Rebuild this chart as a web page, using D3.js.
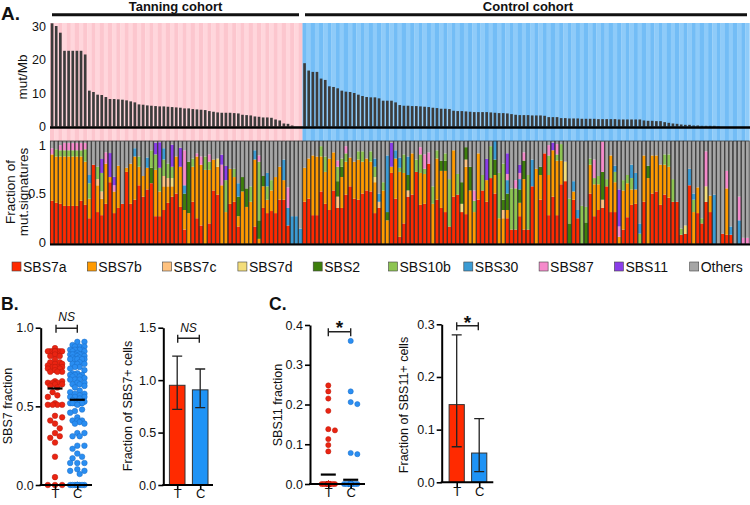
<!DOCTYPE html>
<html><head><meta charset="utf-8">
<script src="https://cdn.jsdelivr.net/npm/d3@7"></script>
<style>
body{margin:0;background:#fff}
svg{display:block}
text{font-family:"Liberation Sans",Arial,Helvetica,sans-serif;fill:#111}
</style>
</head><body>
<svg id="chart" width="750" height="505"></svg>
<script>
// ---------------- DATA ----------------
const nTanning = 61;
const nControl = 108;
const cohorts = ["Tanning cohort", "Control cohort"];
const mutMb = [
 30.8,30.0,28.0,22.6,22.6,22.6,22.6,22.6,21.5,10.7,
 10.3,9.5,9.4,8.8,8.2,8.2,8.1,8.0,7.8,7.5,
 7.2,6.6,6.5,6.3,6.2,6.1,6.0,6.0,5.9,5.8,
 5.7,5.6,5.4,5.4,5.2,5.1,5.0,4.9,4.6,4.4,
 4.2,4.1,4.1,4.1,4.0,3.9,3.5,3.4,3.3,3.0,
 2.9,2.7,2.7,2.6,2.1,1.8,0.9,0.8,0.3,0,0,
 18.9,16.7,16.3,16.3,14.3,13.9,12.0,11.8,11.4,10.7,
 10.4,10.3,10.0,9.5,9.1,8.8,8.7,8.7,8.4,7.7,7.7,
 7.7,7.2,6.4,6.2,6.2,6.1,6.1,6.0,5.9,5.8,
 5.6,5.5,5.3,5.3,5.2,4.7,4.6,4.6,4.5,4.4,
 4.3,4.3,4.3,4.3,4.2,4.1,4.0,4.0,3.9,3.7,
 3.5,3.4,3.4,3.4,3.3,3.3,3.3,3.2,2.8,2.8,
 2.8,2.5,2.5,2.4,
 2.4,2.4,2.3,2.3,2.3,2.3,2.2,2.2,2.2,2.2,
 2.2,2.1,2.1,2.1,2.1,2.1,2.1,1.8,1.7,1.7,
 1.6,1.6,1.3,1.1,0.9,0.8,0.6,0.5,0.5,0.3,
 0.3,0.2,0.2,0.2,0.2,0.1,0,0,0,0,0,0,0
];
const sbs7a = [
 .42,.40,.39,.37,.37,.37,.37,.42,.38,.25,
 .77,.31,.28,.39,.60,.30,.35,.39,.70,.39,
 .43,.57,.46,.53,.59,.27,.27,.33,.40,.46,
 .49,.36,.14,0,.41,.25,.18,0,.20,.52,
 .48,0,0,.39,.41,.17,0,0,0,.17,
 0,.35,.30,.32,.30,.43,.43,.18,0,0,
 0,.41,.44,.28,.28,.51,.39,.33,.52,.35,
 .35,.48,.56,.44,.43,.49,.52,.51,.30,.35,
 0,0,.69,.44,.07,.20,.46,.48,.70,.38,
 .39,.78,0,.43,.35,.31,.17,.46,.48,.31,
 .29,0,0,.43,.52,.41,.64,.49,0,0,
 .25,.14,.14,.27,.14,.14,.56,0,.43,.88,
 .28,.46,.28,.58,.61,0,.43,.25,0,0,
 .49,.27,.33,.35,.56,.31,.31,0,.14,.26,
 .38,.39,0,.41,0,.49,.51,.38,.48,.45,
 .41,.41,.09,.10,.57,0,.30,.20,.41,.31,
 0,0,.10,.09,.09,0,0,0,0
];
const sbs7b = [
 .45,.45,.46,.48,.48,.48,.48,.43,.42,.19,
 0,.26,.16,.39,.05,.21,.41,0,.04,.39,
 .42,.18,.20,.21,0,.45,.24,.23,.16,.10,
 .36,.39,.19,.30,.34,.60,.59,.72,.52,.30,
 .27,.57,.31,.34,.24,.10,.51,.36,.41,.65,
 .05,.21,.13,.20,.35,.32,.19,0,0,0,
 0,.33,.39,.58,.57,.34,.31,.50,.37,0,
 .30,.32,.28,.36,.39,.31,.31,.29,.30,0,
 .52,.23,.06,.39,.63,.49,0,.40,0,.31,
 .29,0,.39,.40,.36,.40,0,.45,0,0,
 .46,.52,.31,.45,0,.21,0,.18,.25,.25,
 .08,0,0,.13,.49,0,0,.73,.24,0,
 .39,.45,.53,.23,0,0,.08,0,0,0,
 .28,.31,.25,0,0,.55,.29,.07,.38,.33,
 .15,.14,0,.45,.64,.37,.35,.39,.29,.30,
 0,0,0,0,0,.31,.25,0,0,.16,
 0,0,0,.45,0,0,0,0,0
];
const sbs7c = [
 0,0,0,0,0,0,0,0,0,0,
 0,.06,.07,0,0,0,0,0,0,0,
 0,0,0,0,0,0,0,.10,.08,0,
 0,0,0,0,0,0,0,0,0,0,
 0,0,0,0,0,0,0,0,0,0,
 0,0,0,0,0,0,0,0,0,0,
 0,0,0,0,0,0,0,0,0,.11,
 0,0,0,0,0,0,0,0,0,.06,
 0,0,0,0,0,0,.06,0,0,0,
 0,0,0,0,0,0,0,0,0,0,
 .07,0,0,0,0,0,0,0,0,.08,
 0,0,0,0,0,0,0,0,0,0,
 0,0,0,0,0,0,0,0,0,0,
 0,0,0,.08,0,0,0,0,0,0,
 0,0,0,0,0,0,0,0,0,0,
 0,0,0,0,0,0,0,0,0,0,
 0,0,0,0,0,0,0,0,0
];
const sbs7d = [
 0,0,0,0,0,0,0,0,0,0,
 0,0,0,0,0,0,0,0,0,0,
 0,0,0,0,0,0,0,0,0,.08,
 0,0,0,0,0,0,0,0,0,0,
 .08,0,0,0,0,0,0,0,0,0,
 0,0,0,0,0,0,0,0,0,0,
 0,0,0,0,0,0,0,0,0,0,
 0,0,0,0,0,0,0,0,.05,0,
 0,0,0,0,0,0,0,0,0,0,
 0,0,0,0,0,0,0,0,0,.08,
 0,0,0,0,0,0,0,0,0,0,
 0,0,0,0,0,0,0,0,0,0,
 0,0,0,0,.19,0,0,0,0,0,
 0,0,0,0,0,0,0,0,0,0,
 0,0,0,0,0,0,0,0,0,0,
 0,0,0,.08,0,0,0,0,.15,0,
 0,0,0,0,0,0,0,0,0
];
const sbs2 = [
 0,0,0,0,0,0,0,0,0,0,
 0,0,0,0,0,0,0,0,0,0,
 0,0,0,0,.15,0,0,0,0,0,
 0,0,.16,.50,0,0,0,0,0,0,
 0,0,0,0,0,.19,.14,.18,0,0,
 .18,.10,0,0,0,0,0,0,0,0,
 0,0,0,0,0,0,0,0,0,.15,
 .10,0,0,0,0,0,0,0,0,0,
 0,.08,0,0,0,0,.15,0,0,0,
 0,0,0,0,.10,.10,0,0,0,.21,
 .12,.23,0,0,0,0,0,.15,0,.10,
 .16,0,0,.13,.18,0,0,0,.08,0,
 0,0,0,0,0,.20,0,0,0,.21,
 0,0,0,.27,0,0,0,0,0,0,
 0,0,0,0,.12,0,0,0,0,0,
 0,0,0,0,0,0,0,0,0,0,
 0,0,0,0,0,0,0,0,0
];
const sbs10b = [
 0,.07,.06,.06,.06,.06,.06,.06,.12,.15,
 0,.12,.18,0,0,0,0,0,0,0,
 0,.10,0,0,.17,.15,.23,.16,.14,.11,
 0,0,0,0,.08,0,0,.13,.08,0,
 0,0,.31,0,.08,0,0,0,.15,0,
 .57,0,.13,.10,0,0,0,0,0,0,
 0,0,0,0,0,.10,.15,0,0,.14,
 .08,.08,0,0,.08,.10,0,.10,.10,0,
 .08,0,0,0,.04,.18,0,0,.12,.18,
 .05,0,.17,.08,0,.07,.46,0,.20,0,
 0,0,.11,0,.15,0,.31,0,.44,.35,
 0,.40,.40,0,0,.53,0,0,0,0,
 .19,0,.06,.16,0,.24,0,0,.37,.15,
 .06,.06,.08,0,.07,0,.10,0,.10,.08,
 .11,0,.10,0,0,0,0,0,.10,.12,
 .22,0,.06,0,0,.12,0,.05,0,0,
 0,0,0,0,0,0,0,0,0
];
const sbs30 = [
 0,0,0,0,0,0,0,0,0,.08,
 0,0,0,0,0,0,0,0,0,0,
 .08,0,0,.10,0,0,0,.11,0,0,
 0,0,.08,0,0,0,0,0,0,0,
 0,0,0,0,0,.13,0,0,0,.09,
 0,0,.13,0,0,0,.20,.17,.27,.27,
 .15,0,0,0,0,0,0,0,0,0,
 0,0,0,0,0,0,0,0,.08,.08,
 0,.55,0,.08,.10,0,.18,0,0,0,
 0,0,0,0,0,0,0,0,0,0,
 0,0,0,0,0,0,0,.18,0,0,
 .13,0,0,.10,0,0,.26,0,0,0,
 0,0,0,0,0,0,.10,.08,0,0,
 0,0,0,0,0,0,.06,0,0,0,
 .13,.16,.10,0,0,0,0,0,0,0,
 0,0,0,0,.16,.06,0,0,0,0,
 .48,0,0,0,.08,0,.23,0,0
];
const sbs87 = [
 .06,0,.05,.07,.07,.07,.07,.07,.06,0,
 0,0,0,.11,0,.06,0,0,0,0,
 0,0,0,0,0,0,0,0,0,0,
 0,0,.34,0,0,.03,.08,0,.07,0,
 0,.20,0,0,0,0,0,0,0,0,
 .06,0,0,0,0,0,0,.20,0,0,
 0,0,0,0,0,0,0,0,0,.06,
 0,.07,0,0,0,0,0,0,0,0,
 0,0,0,0,0,0,0,0,0,.07,
 .14,.11,0,0,0,0,0,0,0,0,
 0,0,.10,0,0,0,0,0,0,0,
 .06,0,.08,.06,.08,0,0,0,0,0,
 .10,0,.10,0,0,0,0,0,0,0,
 0,.18,0,.29,0,0,0,.10,0,0,
 0,0,0,0,0,0,0,0,0,0,
 0,0,0,0,0,0,0,0,.34,0,
 0,0,0,.17,0,0,.23,.06,.06
];
const sbs11 = [
 0,0,0,0,0,0,0,0,0,0,
 0,0,.135,0,.233,.082,0,0,0,0,
 0,0,0,0,0,.113,.248,0,0,.215,
 0,.184,0,0,0,0,0,0,0,0,
 0,.098,.138,0,0,0,0,0,0,0,
 0,0,0,0,0,0,0,0,0,0,
 0,0,0,0,0,0,0,0,0,0,
 0,0,0,0,0,0,0,0,0,0,
 0,0,.233,0,0,0,0,0,0,0,
 0,0,0,0,0,0,0,0,0,0,
 0,0,0,0,0,.206,0,0,0,0,
 .201,0,0,.078,0,0,0,0,0,0,
 0,.075,0,0,0,0,0,0,0,0,
 0,0,0,0,0,0,0,.36,0,0,
 0,0,0,0,0,0,0,0,0,0,
 0,0,0,0,0,0,0,0,0,0,
 0,0,0,0,0,0,0,0,0
];
const signatures = ["SBS7a","SBS7b","SBS7c","SBS7d","SBS2","SBS10b","SBS30","SBS87","SBS11","Others"];
const sigColors = ["#ff2a00","#ff9a00","#ffc27f","#f3dd7a","#3e7f0c","#8dc452","#3b9bd3","#f58acb","#8a3de8","#a6a6a6"];
const topTicks = [0, 10, 20, 30];
const fracTicks = [0, 0.5, 1];
const groups = ["T", "C"];
const sbs7BarTicks = [0, 0.5, 1.0, 1.5];
const sbs7DotTicks = [0, 0.5, 1.0];
const sbs11DotTicks = [0, 0.1, 0.2, 0.3, 0.4];
const sbs11BarTicks = [0, 0.1, 0.2, 0.3];
// 95% confidence intervals of the fraction of positive cells
const sbs7CiLow = [0.722, 0.737], sbs7CiHigh = [1.229, 1.106];
const sbs11CiLow = [0.0675, 0.0204], sbs11CiHigh = [0.280, 0.121];
const sigTests = ["NS", "NS", "*", "*"];

// ---------------- BUILD ----------------
const N = nTanning + nControl;
const seriesArr = [sbs7a, sbs7b, sbs7c, sbs7d, sbs2, sbs10b, sbs30, sbs87, sbs11];
const rows = d3.range(N).map(i => {
  const r = {i};
  let s = 0;
  seriesArr.forEach((arr, k) => { r[signatures[k]] = arr[i]; s += arr[i]; });
  r.Others = Math.max(0, 1 - s);
  return r;
});
const svg = d3.select("#chart");
const font = "Liberation Sans, Arial, sans-serif";

// ---------- Panel A ----------
const x = d3.scaleBand().domain(d3.range(N)).range([50, 749.5]).paddingInner(0);
const bw = x.bandwidth();
const yTop = d3.scaleLinear().domain([0, 30]).range([126.5, 26]);
const yFrac = d3.scaleLinear().domain([0, 1]).range([244, 141]);

svg.append("text").attr("x", 1).attr("y", 20).attr("font-size", 19).attr("font-weight", "bold").text("A.");

// cohort headers
const cohortSpan = [[52, 299], [305, 747]];
cohorts.forEach((c, k) => {
  svg.append("line").attr("x1", cohortSpan[k][0]).attr("x2", cohortSpan[k][1]).attr("y1", 14.7).attr("y2", 14.7)
    .attr("stroke", "#111").attr("stroke-width", 3);
  svg.append("text").attr("x", (cohortSpan[k][0] + cohortSpan[k][1]) / 2 + (k === 0 ? 0 : 2)).attr("y", 11)
    .attr("text-anchor", "middle").attr("font-size", 13).attr("font-weight", "bold").text(c);
});

// striped background
svg.append("g").selectAll("rect").data(rows).join("rect")
  .attr("x", d => x(d.i)).attr("width", bw + 0.2).attr("y", 23).attr("height", 118)
  .attr("fill", d => d.i < nTanning ? (d.i % 2 === 0 ? "#fcc6ce" : "#ffd6dc")
                                    : ((d.i - nTanning) % 2 === 0 ? "#73bdf6" : "#8ecbf9"));

// mut/Mb bars
svg.append("g").selectAll("rect").data(mutMb).join("rect")
  .attr("x", (d, i) => x(i) + bw * 0.18).attr("width", bw * 0.64)
  .attr("y", d => yTop(d)).attr("height", d => yTop(0) - yTop(d))
  .attr("fill", "#3b3b3b");
svg.append("line").attr("x1", 50).attr("x2", 750).attr("y1", 127.5).attr("y2", 127.5)
  .attr("stroke", "#000").attr("stroke-width", 2.5);
svg.append("g").selectAll("text").data(topTicks).join("text")
  .attr("x", 46).attr("y", d => yTop(d)).attr("dy", "0.36em").attr("text-anchor", "end")
  .attr("font-size", 12.5).text(d => d);
svg.append("text").attr("transform", "translate(26.5,77) rotate(-90)").attr("text-anchor", "middle")
  .attr("font-size", 13.5).text("mut/Mb");

// stacked signatures
const stack = d3.stack().keys(signatures)(rows);
const gS = svg.append("g");
stack.forEach((layer, k) => {
  gS.append("g").attr("fill", sigColors[k]).selectAll("rect").data(layer).join("rect")
    .attr("x", (d, i) => x(i)).attr("width", bw)
    .attr("y", d => yFrac(d[1])).attr("height", d => Math.max(0, yFrac(d[0]) - yFrac(d[1])));
});
gS.append("g").selectAll("rect").data(rows).join("rect")
  .attr("x", d => x(d.i) + 0.3).attr("width", bw - 0.6).attr("y", yFrac(1)).attr("height", yFrac(0) - yFrac(1))
  .attr("fill", "none").attr("stroke", "#2b2b2b").attr("stroke-width", 0.7);
svg.append("line").attr("x1", 50).attr("x2", 750).attr("y1", 244.5).attr("y2", 244.5)
  .attr("stroke", "#000").attr("stroke-width", 2);
const fracLabelY = {0: 242, 0.5: 193, 1: 145};
svg.append("g").selectAll("text").data(fracTicks).join("text")
  .attr("x", 46).attr("y", d => fracLabelY[d]).attr("dy", "0.36em").attr("text-anchor", "end")
  .attr("font-size", 13).text(d => d);
svg.append("text").attr("transform", "translate(14.5,192) rotate(-90)").attr("text-anchor", "middle")
  .attr("font-size", 13.5).text("Fraction of");
svg.append("text").attr("transform", "translate(27.5,192) rotate(-90)").attr("text-anchor", "middle")
  .attr("font-size", 13.5).text("mut.signatures");

// legend
const leg = svg.append("g").selectAll("g").data(signatures).join("g")
  .attr("transform", (d, k) => `translate(${12 + k * 75.3},262)`);
leg.append("rect").attr("width", 9).attr("height", 9).attr("fill", (d, k) => sigColors[k])
  .attr("stroke", "#444").attr("stroke-width", 0.6);
leg.append("text").attr("x", 11).attr("y", 9.6).attr("font-size", 14).text(d => d);

// ---------- helpers ----------
function swarm(vals, cx, yS, r, maxOff) {
  const pts = vals.map(v => ({v, y: yS(v)})).sort((a, b) => a.y - b.y);
  const placed = [];
  const step = r * 0.85;
  const nK = Math.floor(maxOff / step) * 2;
  pts.forEach(p => {
    let best = cx, bestScore = -Infinity;
    for (let k = 0; k <= nK; k++) {
      const off = (k % 2 === 1 ? 1 : -1) * Math.ceil(k / 2) * step;
      const xx = cx + off;
      let minD = Infinity;
      for (const q of placed) {
        const dy = q.y - p.y;
        if (Math.abs(dy) < 2 * r) { const dd = Math.hypot(q.x - xx, dy); if (dd < minD) minD = dd; }
      }
      if (minD >= 2 * r * 0.97) { best = xx; bestScore = Infinity; break; }
      if (minD > bestScore) { bestScore = minD; best = xx; }
    }
    p.x = best; placed.push(p);
  });
  return placed;
}
function yAxis(g, scale, xPos, ticks, fmt) {
  const a = g.append("g").attr("transform", `translate(${xPos},0)`)
    .call(d3.axisLeft(scale).tickValues(ticks).tickFormat(fmt).tickSize(5).tickSizeOuter(0).tickPadding(2));
  a.select(".domain").attr("stroke", "#000").attr("stroke-width", 2);
  a.selectAll(".tick line").attr("stroke", "#000").attr("stroke-width", 1.6);
  a.selectAll(".tick text").attr("font-size", 12.5).attr("font-family", font).attr("fill", "#222");
  return a;
}
function xAxis(g, scale, y0, x0, x1) {
  const a = g.append("g").attr("transform", `translate(0,${y0})`)
    .call(d3.axisBottom(scale).tickSize(5).tickSizeOuter(0).tickPadding(-1));
  a.select(".domain").remove();
  a.selectAll(".tick line").attr("stroke", "#000").attr("stroke-width", 1.6);
  a.selectAll(".tick text").attr("font-size", 13).attr("font-family", font).attr("fill", "#222");
  g.append("line").attr("x1", x0 - 1).attr("x2", x1).attr("y1", y0).attr("y2", y0).attr("stroke", "#000").attr("stroke-width", 2);
}
function bracket(g, xa, xb, y, label, ly, italic, size) {
  g.append("path").attr("d", `M${xa},${y - 3.5}V${y + 4.5}M${xa},${y}H${xb}M${xb},${y - 3.5}V${y + 4.5}`)
    .attr("stroke", "#222").attr("stroke-width", 1.4).attr("fill", "none");
  g.append("text").attr("x", (xa + xb) / 2).attr("y", ly).attr("text-anchor", "middle")
    .attr("font-size", size).attr("font-style", italic ? "italic" : "normal")
    .attr("font-weight", italic ? "normal" : "bold").text(label);
}
const fill = {T: "#ea2412", C: "#2a8ef2"};
const dotStroke = {T: "#b81a0c", C: "#1b6cc4"};
const barFill = {T: "#ff2a00", C: "#1f93f5"};
const fmt1 = d3.format(".1f");

const sbs7Frac = rows.map(r => r.SBS7a + r.SBS7b + r.SBS7c + r.SBS7d);
const sbs11Frac = rows.map(r => r.SBS11);
const grpVals = (arr, g) => g === "T" ? arr.slice(0, nTanning) : arr.slice(nTanning);

// ---------- Panel B ----------
const gB = svg.append("g");
gB.append("text").attr("x", 1).attr("y", 310).attr("font-size", 17.5).attr("font-weight", "bold").text("B.");
const yB = d3.scaleLinear().domain([0, 1]).range([485, 327.7]);
const xB = d3.scalePoint().domain(groups).range([55, 77.3]);
groups.forEach(g => {
  const pts = swarm(grpVals(sbs7Frac, g), xB(g), yB, 2.8, 8.5);
  gB.append("g").selectAll("circle").data(pts).join("circle")
    .attr("cx", d => d.x).attr("cy", d => d.y).attr("r", 2.8)
    .attr("fill", fill[g]).attr("stroke", dotStroke[g]).attr("stroke-width", 0.5);
});
groups.forEach(g => {
  const m = d3.mean(grpVals(sbs7Frac, g));
  gB.append("line").attr("x1", xB(g) - 7.5).attr("x2", xB(g) + 7.5).attr("y1", yB(m)).attr("y2", yB(m))
    .attr("stroke", "#000").attr("stroke-width", 2.2);
});
yAxis(gB, yB, 40.7, sbs7DotTicks, fmt1);
xAxis(gB, xB, 485, 40.7, 92);
gB.append("text").attr("transform", "translate(11.5,406) rotate(-90)").attr("text-anchor", "middle")
  .attr("font-size", 12.5).text("SBS7 fraction");
bracket(gB, 56, 77.3, 328.3, sigTests[0], 320.5, true, 12);

// bar B
const yB2 = d3.scaleLinear().domain([0, 1.5]).range([485, 327.7]);
const xB2 = d3.scalePoint().domain(groups).range([177.2, 200.2]);
groups.forEach((g, k) => {
  const v = grpVals(sbs7Frac, g);
  const frac = v.filter(d => d > 0).length / v.length;
  gB.append("rect").attr("x", xB2(g) - 7.8).attr("width", 15.6).attr("y", yB2(frac)).attr("height", yB2(0) - yB2(frac))
    .attr("fill", barFill[g]).attr("stroke", "#333").attr("stroke-width", 1);
  gB.append("path").attr("d", `M${xB2(g) - 5},${yB2(sbs7CiHigh[k])}H${xB2(g) + 5}M${xB2(g)},${yB2(sbs7CiHigh[k])}V${yB2(sbs7CiLow[k])}M${xB2(g) - 5},${yB2(sbs7CiLow[k])}H${xB2(g) + 5}`)
    .attr("stroke", "#222").attr("stroke-width", 1.3).attr("fill", "none");
});
yAxis(gB, yB2, 163.3, sbs7BarTicks, fmt1);
xAxis(gB, xB2, 485, 163.3, 213);
gB.append("text").attr("transform", "translate(131.5,406) rotate(-90)").attr("text-anchor", "middle")
  .attr("font-size", 12.5).text("Fraction of SBS7+ cells");
bracket(gB, 177.7, 199.3, 338.3, sigTests[1], 331.5, true, 12);

// ---------- Panel C ----------
const gC = svg.append("g");
gC.append("text").attr("x", 269).attr("y", 310).attr("font-size", 17.5).attr("font-weight", "bold").text("C.");
const yC = d3.scaleLinear().domain([0, 0.4]).range([484, 325]);
const xC = d3.scalePoint().domain(groups).range([328.3, 350.7]);
groups.forEach(g => {
  const pts = swarm(grpVals(sbs11Frac, g), xC(g), yC, 2.6, 7.5);
  gC.append("g").selectAll("circle").data(pts).join("circle")
    .attr("cx", d => d.x).attr("cy", d => d.y).attr("r", 2.6)
    .attr("fill", fill[g]).attr("stroke", dotStroke[g]).attr("stroke-width", 0.5);
});
groups.forEach(g => {
  const m = d3.mean(grpVals(sbs11Frac, g));
  gC.append("line").attr("x1", xC(g) - 7.5).attr("x2", xC(g) + 7.5).attr("y1", yC(m)).attr("y2", yC(m))
    .attr("stroke", "#000").attr("stroke-width", 2.2);
});
yAxis(gC, yC, 310, sbs11DotTicks, fmt1);
xAxis(gC, xC, 484, 310, 365);
gC.append("text").attr("transform", "translate(281.5,405) rotate(-90)").attr("text-anchor", "middle")
  .attr("font-size", 12.5).text("SBS11 fraction");
bracket(gC, 328.3, 350.7, 331.7, sigTests[2], 334, false, 19);

// bar C
const yC2 = d3.scaleLinear().domain([0, 0.3]).range([482.3, 324.3]);
const xC2 = d3.scalePoint().domain(groups).range([456.7, 479.2]);
groups.forEach((g, k) => {
  const v = grpVals(sbs11Frac, g);
  const frac = v.filter(d => d > 0).length / v.length;
  gC.append("rect").attr("x", xC2(g) - 7.6).attr("width", 15.2).attr("y", yC2(frac)).attr("height", yC2(0) - yC2(frac))
    .attr("fill", barFill[g]).attr("stroke", "#333").attr("stroke-width", 1);
  gC.append("path").attr("d", `M${xC2(g) - 5},${yC2(sbs11CiHigh[k])}H${xC2(g) + 5}M${xC2(g)},${yC2(sbs11CiHigh[k])}V${yC2(sbs11CiLow[k])}M${xC2(g) - 5},${yC2(sbs11CiLow[k])}H${xC2(g) + 5}`)
    .attr("stroke", "#222").attr("stroke-width", 1.3).attr("fill", "none");
});
yAxis(gC, yC2, 441.7, sbs11BarTicks, fmt1);
xAxis(gC, xC2, 482.3, 441.7, 493.3);
gC.append("text").attr("transform", "translate(407.5,405) rotate(-90)").attr("text-anchor", "middle")
  .attr("font-size", 12.5).text("Fraction of SBS11+ cells");
bracket(gC, 456.7, 478.3, 325.7, sigTests[3], 328.5, false, 19);
</script>
</body></html>
